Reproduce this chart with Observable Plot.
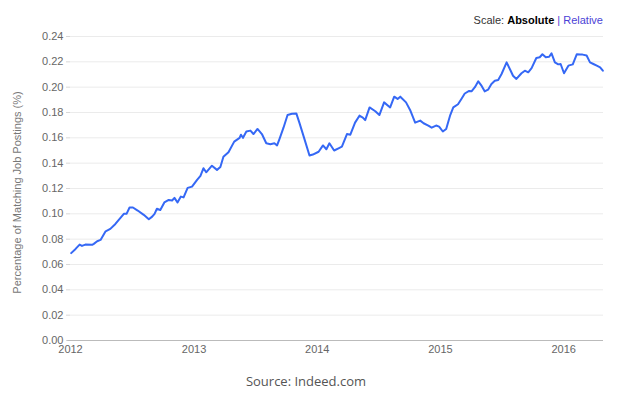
<!DOCTYPE html>
<html>
<head>
<meta charset="utf-8">
<script src="https://cdn.jsdelivr.net/npm/d3@7"></script>
<script src="https://cdn.jsdelivr.net/npm/@observablehq/plot@0.6"></script>
<style>
  body { margin: 0; background: #fff; }
  #wrap { position: relative; width: 628px; height: 400px; overflow: hidden; }
  #scale { position: absolute; right: 25px; top: 14px; font: 11px "Liberation Sans", Arial, sans-serif; color: #333; white-space: nowrap; }
  #scale b { color: #000; }
  #scale .sep, #scale .rel { color: #4b3fd6; }
  #chart { position: absolute; left: 0; top: 28px; }
  #src { position: absolute; left: 0; top: 372px; width: 612px; text-align: center; font: 13px "Open Sans", sans-serif; color: #555; }
</style>
</head>
<body>
<div id="wrap">
  <div id="scale">Scale: <b>Absolute</b> <span class="sep">|</span> <span class="rel">Relative</span></div>
  <div id="chart"></div>
  <div id="src">Source: Indeed.com</div>
</div>
<script>
const dates = [
  "2012-01-03","2012-01-16","2012-01-28","2012-02-04","2012-02-14","2012-03-05","2012-03-10","2012-03-20","2012-03-30",
  "2012-04-14","2012-04-28","2012-05-13","2012-05-23","2012-06-07","2012-06-15","2012-06-24","2012-07-04","2012-07-18",
  "2012-08-05","2012-08-20","2012-08-30","2012-09-06","2012-09-13","2012-09-23","2012-10-05","2012-10-18","2012-10-28",
  "2012-11-04","2012-11-13","2012-11-23","2012-12-01","2012-12-13","2012-12-26",
  "2013-01-10","2013-01-20","2013-01-29","2013-02-06","2013-02-23","2013-03-10","2013-03-20","2013-03-29","2013-04-13",
  "2013-04-30","2013-05-16","2013-05-20","2013-05-26","2013-06-05","2013-06-17","2013-06-26","2013-07-08","2013-07-21",
  "2013-08-03","2013-08-15","2013-08-27","2013-09-04","2013-09-11","2013-09-23","2013-10-05","2013-10-18","2013-10-31",
  "2013-11-09","2013-11-23","2013-12-09","2013-12-19",
  "2014-01-05","2014-01-18","2014-01-28","2014-02-06","2014-02-20","2014-03-05","2014-03-15","2014-03-30","2014-04-09",
  "2014-04-23","2014-05-06","2014-05-16","2014-05-23","2014-06-05","2014-06-22","2014-07-04","2014-07-18","2014-08-05",
  "2014-08-17","2014-08-27","2014-09-04","2014-09-21","2014-10-03","2014-10-18","2014-11-02","2014-11-12","2014-11-26",
  "2014-12-06","2014-12-19","2014-12-28",
  "2015-01-08","2015-01-18","2015-01-30","2015-02-08","2015-02-22","2015-03-04","2015-03-14","2015-03-27","2015-04-03",
  "2015-04-13","2015-04-23","2015-05-03","2015-05-12","2015-05-22","2015-06-01","2015-06-11","2015-06-21","2015-07-01",
  "2015-07-16","2015-07-28","2015-08-04","2015-08-14","2015-08-29","2015-09-08","2015-09-18","2015-09-28","2015-10-12",
  "2015-10-22","2015-10-30","2015-11-09","2015-11-19","2015-11-26","2015-12-06","2015-12-16","2015-12-23",
  "2016-01-02","2016-01-15","2016-01-28","2016-02-09","2016-02-19","2016-02-26","2016-03-09","2016-03-19","2016-03-29",
  "2016-04-08","2016-04-18","2016-04-26"
];
const values = [
  0.069,0.0723,0.0757,0.0747,0.0757,0.0755,0.0763,0.0784,0.0794,
  0.0862,0.0881,0.092,0.0952,0.100,0.100,0.105,0.105,0.1026,
  0.0992,0.0957,0.0978,0.100,0.104,0.103,0.109,0.111,0.1105,
  0.1126,0.109,0.1136,0.113,0.1205,0.1215,
  0.1268,0.130,0.136,0.1328,0.138,0.1347,0.137,0.145,0.1486,
  0.157,0.160,0.1625,0.160,0.165,0.1657,0.163,0.167,0.163,
  0.1557,0.155,0.1557,0.154,0.159,0.168,0.178,0.179,0.1793,
  0.172,0.160,0.146,0.1468,
  0.149,0.154,0.151,0.1557,0.150,0.1517,0.153,0.163,0.1625,
  0.172,0.1775,0.176,0.174,0.184,0.181,0.178,0.188,0.184,
  0.1925,0.1907,0.1925,0.188,0.182,0.172,0.1736,0.1715,0.1697,
  0.168,0.1697,0.1688,
  0.165,0.167,0.178,0.184,0.1865,0.1907,0.195,0.197,0.1967,
  0.200,0.2046,0.201,0.1967,0.198,0.2025,0.205,0.2057,0.2104,
  0.2196,0.213,0.209,0.2065,0.211,0.213,0.2117,0.215,0.223,
  0.2236,0.226,0.2236,0.224,0.2267,0.2196,0.218,0.2183,
  0.211,0.217,0.218,0.226,0.2257,0.2257,0.225,0.2196,0.2183,
  0.217,0.2157,0.213
];
const yTicks = [0, 0.02, 0.04, 0.06, 0.08, 0.10, 0.12, 0.14, 0.16, 0.18, 0.20, 0.22, 0.24];
const xTickYears = [2012, 2013, 2014, 2015, 2016];
const yLabel = "Percentage of Matching Job Postings (%)";

const data = dates.map((d, i) => ({date: new Date(d), value: values[i]}));
const xTicks = xTickYears.map(y => new Date(Date.UTC(y, 0, 1)));

const chart = Plot.plot({
  width: 628,
  height: 337,
  marginLeft: 70,
  marginRight: 25,
  marginTop: 8,
  marginBottom: 25,
  style: {fontFamily: "'Liberation Sans', Arial, sans-serif", fontSize: "11px", color: "#666", background: "transparent"},
  x: {type: "utc", domain: [new Date("2012-01-01"), new Date("2016-04-28")]},
  y: {domain: [0, 0.24]},
  marks: [
    Plot.gridY(yTicks, {stroke: "#ebebeb", strokeOpacity: 1}),
    Plot.axisY(yTicks, {tickFormat: d3.format(".2f"), tickSize: 4, tickPadding: 3, stroke: "#d8d8d8", fill: "#666", label: null}),
    Plot.axisX(xTicks, {tickFormat: d3.utcFormat("%Y"), tickSize: 0, tickPadding: 5, fill: "#666", label: null}),
    Plot.ruleY([0], {stroke: "#bbb", x1: d3.utcDay.offset(new Date("2012-01-01"), -8), x2: new Date("2016-04-28")}),
    Plot.lineY(data, {x: "date", y: "value", stroke: "#3568f5", strokeWidth: 2}),
    Plot.text([yLabel], {frameAnchor: "left", textAnchor: "middle", rotate: -90, dx: -53, dy: 4, fill: "#777", text: d => d, fontSize: 11})
  ]
});
document.getElementById("chart").appendChild(chart);
</script>
</body>
</html>
